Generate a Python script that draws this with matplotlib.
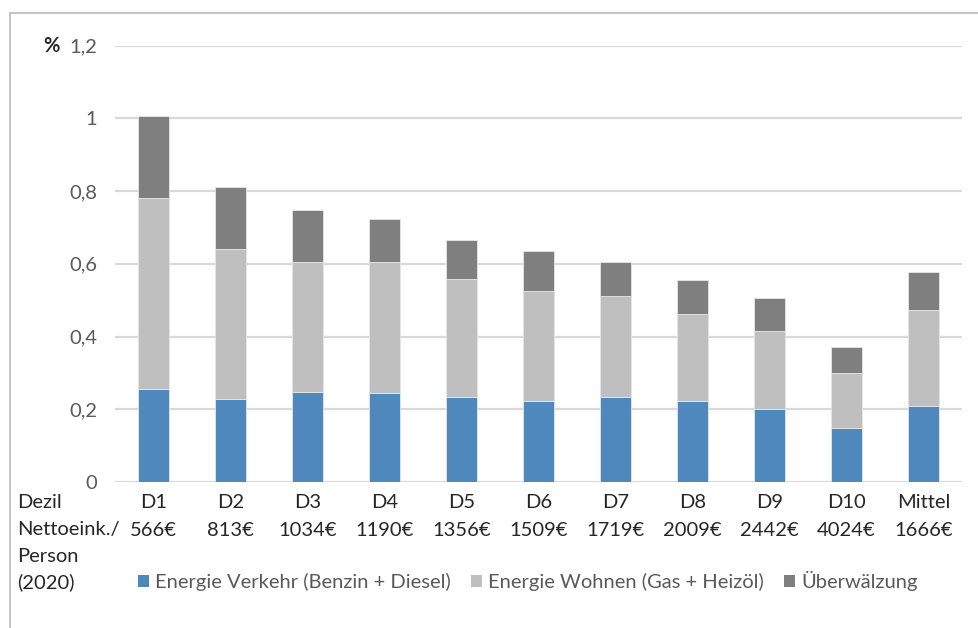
import numpy as np
import matplotlib
matplotlib.use("Agg")
import matplotlib.pyplot as plt
from matplotlib.patches import Patch
from matplotlib.lines import Line2D

plt.rcParams['font.family'] = ['Lato', 'DejaVu Sans']

# Belastung in % des Nettoeinkommens je Dezil
dezile = ["D1", "D2", "D3", "D4", "D5", "D6", "D7", "D8", "D9", "D10", "Mittel"]
einkommen = ["566€", "813€", "1034€", "1190€", "1356€", "1509€", "1719€",
             "2009€", "2442€", "4024€", "1666€"]
verkehr = [0.256, 0.228, 0.248, 0.245, 0.233, 0.223, 0.235, 0.223, 0.200, 0.148, 0.209]
wohnen = [0.526, 0.413, 0.358, 0.361, 0.325, 0.303, 0.275, 0.238, 0.216, 0.153, 0.264]
ueberwaelzung = [0.225, 0.171, 0.143, 0.118, 0.108, 0.109, 0.096, 0.093, 0.090, 0.071, 0.103]

serien = ["Energie Verkehr (Benzin + Diesel)", "Energie Wohnen (Gas + Heizöl)", "Überwälzung"]
farben = ["#4f88bd", "#bfbfbf", "#7f7f7f"]

W, H = 979, 628
FS = 14.5
fig = plt.figure(figsize=(W / 100, H / 100), dpi=100)

def fx(px):
    return px / W

def fy(py):
    return 1 - py / H

ax = fig.add_axes([fx(115), fy(482), fx(962) - fx(115), fy(45.5) - fy(482)])

x = np.arange(len(dezile))
unten = np.zeros(len(dezile))
for werte, farbe in zip([verkehr, wohnen, ueberwaelzung], farben):
    ax.bar(x, werte, width=0.4, bottom=unten, color=farbe,
           edgecolor="#e6e6e6", linewidth=0.6, zorder=3)
    unten += np.array(werte)

ax.set_xlim(-0.5, len(dezile) - 0.5)
ax.set_ylim(0, 1.2)
yt = [0, 0.2, 0.4, 0.6, 0.8, 1.0, 1.2]
ax.set_yticks(yt)
ax.set_yticklabels(["0", "0,2", "0,4", "0,6", "0,8", "1", "1,2"],
                   color="#595959", fontsize=FS)
ax.tick_params(axis="y", length=0, pad=13)
ax.set_xticks([])
ax.grid(axis="y", color="#d9d9d9", linewidth=1.6, zorder=0)
for s in ax.spines.values():
    s.set_visible(False)

fig.text(fx(60), fy(46), "%", ha="right", va="center", fontsize=FS,
         color="#262626", fontweight="bold")

# Kategorienbeschriftung unter der Achse
for i, (d, e) in enumerate(zip(dezile, einkommen)):
    xf = fx(115 + 77 * (i + 0.5))
    fig.text(xf, fy(503), d, ha="center", va="center", fontsize=FS, color="#262626")
    fig.text(xf, fy(530), e, ha="center", va="center", fontsize=FS, color="#262626")

for zeile, py in zip(["Dezil", "Nettoeink./", "Person", "(2020)"], [503, 530, 557, 582]):
    fig.text(fx(17), fy(py), zeile, ha="left", va="center", fontsize=FS, color="#262626")

handles = [Patch(facecolor=c, edgecolor="none") for c in farben]
fig.legend(handles, serien, loc="center", bbox_to_anchor=(fx(528), fy(581)),
           ncol=3, frameon=False, fontsize=FS, labelcolor="#595959",
           handlelength=0.55, handleheight=0.55, handletextpad=0.3,
           columnspacing=1.0)

# Rahmen oben und links
fig.add_artist(Line2D([fx(10), 1], [fy(13), fy(13)], color="#bfbfbf", linewidth=1.3))
fig.add_artist(Line2D([fx(10), fx(10)], [fy(13), 0], color="#bfbfbf", linewidth=1.3))

fig.savefig("out.png", dpi=100)
